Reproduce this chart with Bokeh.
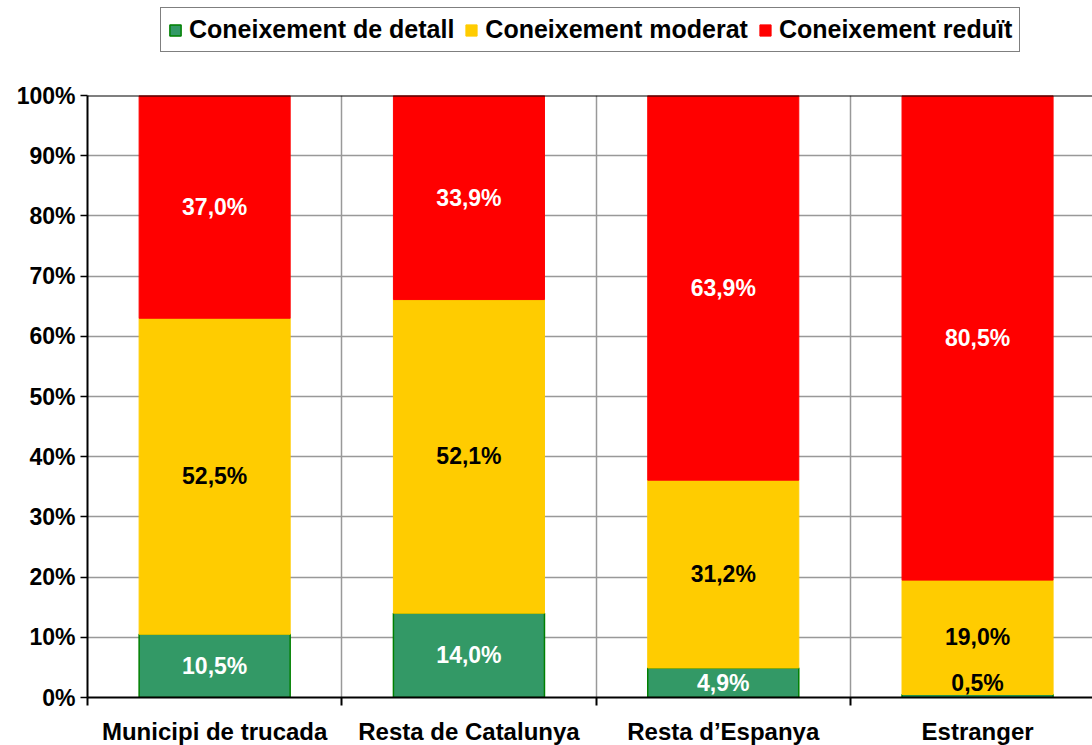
from bokeh.plotting import figure
from bokeh.layouts import column
from bokeh.models import ColumnDataSource, FixedTicker, Span, Legend, LegendItem, Range1d
from bokeh.embed import file_html
from bokeh.resources import INLINE
from bokeh.core.properties import value

categories = ["Municipi de trucada", "Resta de Catalunya", "Resta d\u2019Espanya", "Estranger"]
series_names = ["Coneixement de detall", "Coneixement moderat", "Coneixement reduït"]
detall = [10.5, 14.0, 4.9, 0.5]
moderat = [52.5, 52.1, 31.2, 19.0]
reduit = [37.0, 33.9, 63.9, 80.5]
y_ticks = [0, 10, 20, 30, 40, 50, 60, 70, 80, 90, 100]
y_tick_labels = ["0%", "10%", "20%", "30%", "40%", "50%", "60%", "70%", "80%", "90%", "100%"]

colors = ["#339966", "#FFCC00", "#FF0000"]
outlines = ["#008000", "#FFCC00", "#FF0000"]
label_colors = ["white", "black", "white"]
FONT = "Liberation Sans"

n = len(categories)
xs = [i + 0.5 for i in range(n)]
series = [detall, moderat, reduit]

# ---- legend strip on top ----
lg = figure(frame_width=1092, frame_height=60, output_backend="svg", toolbar_location=None,
            x_range=Range1d(0, 1), y_range=Range1d(0, 1),
            min_border_left=0, min_border_right=0, min_border_top=0, min_border_bottom=0,
            x_axis_location=None, y_axis_location=None)
lg.outline_line_color = None
lg.xgrid.visible = False
lg.ygrid.visible = False
proxies = []
for k, vals in enumerate(series):
    r = lg.vbar(x=xs, top=vals, width=0.5, fill_color=colors[k], line_color=outlines[k],
                line_width=1.5 if k == 0 else 1)
    r.visible = False
    proxies.append(r)
legend = Legend(items=[LegendItem(label=s, renderers=[r]) for s, r in zip(series_names, proxies)],
                orientation="horizontal", location=(160, 8),
                label_text_font=FONT, label_text_font_style="bold", label_text_font_size="25px",
                label_text_color="black", glyph_width=14, glyph_height=14, label_standoff=7,
                spacing=10, padding=7, margin=0,
                border_line_color="black", border_line_width=1.5,
                background_fill_alpha=1, inactive_fill_alpha=0)
lg.add_layout(legend, "center")

# ---- main chart ----
p = figure(frame_width=1005, frame_height=602, output_backend="svg", toolbar_location=None,
           x_range=Range1d(0, 3.952), y_range=Range1d(0, 100),
           min_border_left=87, min_border_right=0, min_border_bottom=48, min_border_top=35)
p.outline_line_color = None
p.background_fill_color = "white"

label_sources = []
bottom = [0.0] * n
for k, vals in enumerate(series):
    top = [b + v for b, v in zip(bottom, vals)]
    src = ColumnDataSource(dict(x=xs, bottom=bottom, top=top))
    p.vbar(x="x", width=0.594, bottom="bottom", top="top", source=src,
           fill_color=colors[k], line_color=outlines[k], line_width=1.5 if k == 0 else 1)
    mids = [max((b + t) / 2, 2.45) for b, t in zip(bottom, top)]
    texts = [("%.1f" % v).replace(".", ",") + "%" for v in vals]
    tcols = [label_colors[k] if not (k == 0 and v < 2) else "black" for v in vals]
    label_sources.append(ColumnDataSource(dict(x=xs, y=mids, t=texts, c=tcols)))
    bottom = top

for lsrc in label_sources:
    p.text(x="x", y="y", text="t", source=lsrc, text_color="c",
           text_align="center", text_baseline="middle",
           text_font=value(FONT), text_font_style="bold", text_font_size="23px")

p.add_layout(Span(location=100, dimension="width", line_color="black", line_width=2))

# axes
p.xaxis.ticker = FixedTicker(ticks=xs, minor_ticks=[0, 1, 2, 3, 4])
p.xaxis.major_label_overrides = {x: c for x, c in zip(xs, categories)}
p.xaxis.major_tick_line_color = None
p.xaxis.minor_tick_line_color = "black"
p.xaxis.minor_tick_line_width = 2
p.xaxis.minor_tick_out = 8
p.xaxis.minor_tick_in = 0
p.xaxis.major_label_standoff = 12
p.xaxis.axis_line_width = 2
p.xaxis.axis_line_color = "black"
p.xaxis.major_label_text_font = FONT
p.xaxis.major_label_text_font_style = "bold"
p.xaxis.major_label_text_font_size = "24px"
p.xaxis.major_label_text_color = "black"

p.yaxis.ticker = FixedTicker(ticks=y_ticks)
p.yaxis.major_label_overrides = {t: l for t, l in zip(y_ticks, y_tick_labels)}
p.yaxis.axis_line_width = 2
p.yaxis.axis_line_color = "black"
p.yaxis.major_tick_line_color = "black"
p.yaxis.major_tick_line_width = 1.5
p.yaxis.major_tick_out = 7
p.yaxis.major_tick_in = 0
p.yaxis.minor_tick_line_color = None
p.yaxis.major_label_standoff = 5
p.yaxis.major_label_text_font = FONT
p.yaxis.major_label_text_font_style = "bold"
p.yaxis.major_label_text_font_size = "23px"
p.yaxis.major_label_text_color = "black"

p.xgrid.ticker = FixedTicker(ticks=[1, 2, 3])
p.xgrid.grid_line_color = "#999999"
p.xgrid.grid_line_width = 1.5
p.ygrid.grid_line_color = "#999999"
p.ygrid.grid_line_width = 1.5

layout = column(lg, p, spacing=0)
open("out.html", "w").write(file_html(layout, INLINE))
